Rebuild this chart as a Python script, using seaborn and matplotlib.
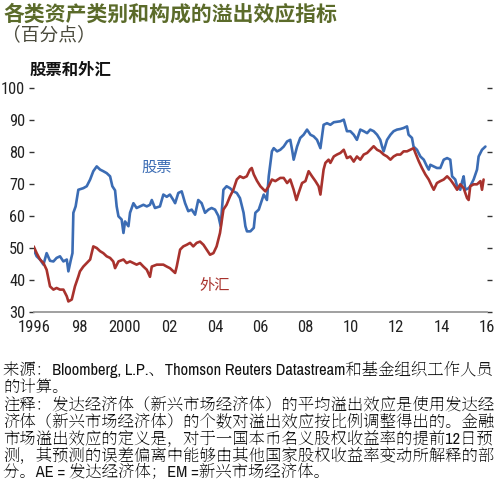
import pandas as pd
import matplotlib.pyplot as plt
import seaborn as sns

# 股票 (equity) spillover
stock_year = [1996.00, 1996.13, 1996.28, 1996.43, 1996.57, 1996.72, 1996.87, 1997.01, 1997.16, 1997.31,
              1997.46, 1997.53, 1997.63, 1997.71, 1997.75, 1997.85, 1997.97, 1998.19, 1998.34, 1998.49,
              1998.63, 1998.78, 1998.93, 1999.07, 1999.22, 1999.37, 1999.47, 1999.59, 1999.66, 1999.74,
              1999.88, 1999.96, 2000.03, 2000.18, 2000.25, 2000.40, 2000.54, 2000.69, 2000.84, 2000.99,
              2001.13, 2001.21, 2001.35, 2001.57, 2001.72, 2001.87, 2002.01, 2002.16, 2002.24, 2002.38,
              2002.53, 2002.68, 2002.82, 2002.97, 2003.12, 2003.26, 2003.41, 2003.56, 2003.71, 2003.85,
              2004.00, 2004.15, 2004.25, 2004.37, 2004.51, 2004.66, 2004.81, 2004.96, 2005.10, 2005.26,
              2005.34, 2005.41, 2005.56, 2005.71, 2005.78, 2005.93, 2006.07, 2006.15, 2006.29, 2006.37,
              2006.51, 2006.59, 2006.74, 2006.88, 2007.03, 2007.18, 2007.32, 2007.40, 2007.47, 2007.62,
              2007.76, 2007.91, 2008.06, 2008.21, 2008.35, 2008.50, 2008.65, 2008.79, 2008.94, 2009.09,
              2009.24, 2009.53, 2009.68, 2009.82, 2009.97, 2010.12, 2010.26, 2010.41, 2010.56, 2010.71,
              2010.85, 2011.00, 2011.15, 2011.29, 2011.37, 2011.44, 2011.59, 2011.74, 2011.88, 2012.03,
              2012.18, 2012.32, 2012.47, 2012.54, 2012.69, 2012.76, 2012.91, 2013.06, 2013.21, 2013.35,
              2013.43, 2013.50, 2013.65, 2013.79, 2013.94, 2014.09, 2014.24, 2014.38, 2014.46, 2014.60,
              2014.68, 2014.82, 2014.90, 2014.97, 2015.04, 2015.19, 2015.26, 2015.41, 2015.56, 2015.63,
              2015.78, 2015.93]
stock_val = [49.5, 47.4, 46.4, 44.8, 48.4, 46.0, 45.8, 46.9, 47.4, 45.8,
             46.4, 42.7, 46.0, 48.4, 61.0, 63.0, 68.2, 68.7, 69.3, 71.4,
             74.0, 75.5, 74.5, 74.0, 73.4, 72.4, 69.3, 68.0, 63.0, 59.9,
             58.9, 54.7, 58.3, 56.8, 61.0, 64.0, 62.5, 63.0, 63.5, 63.0,
             63.5, 65.0, 62.5, 63.0, 66.7, 66.0, 66.7, 65.0, 64.0, 67.2,
             67.7, 64.0, 61.5, 62.0, 60.4, 65.0, 64.0, 61.0, 62.0, 62.5,
             62.0, 60.0, 56.8, 68.2, 69.3, 68.7, 67.7, 67.2, 65.6, 61.0,
             56.8, 55.2, 55.2, 56.3, 61.0, 62.0, 65.0, 66.7, 65.0, 72.4,
             80.2, 81.2, 80.2, 80.7, 81.7, 83.3, 83.8, 80.7, 77.6, 81.7,
             84.4, 85.4, 87.0, 85.4, 84.9, 83.8, 81.2, 88.5, 89.0, 88.5,
             89.3, 89.6, 90.1, 86.5, 86.5, 85.4, 83.8, 87.0, 86.5, 85.9,
             87.0, 86.5, 85.4, 83.8, 81.7, 80.2, 83.8, 85.4, 86.5, 87.0,
             87.2, 87.5, 88.0, 85.4, 84.4, 81.7, 80.7, 78.6, 77.6, 75.5,
             74.5, 76.0, 75.5, 75.0, 75.0, 77.6, 78.1, 77.6, 72.4, 71.4,
             69.3, 68.2, 70.7, 72.4, 68.2, 68.7, 69.3, 71.4, 74.5, 78.6,
             80.7, 81.7]

# 外汇 (FX) spillover
fx_year = [1996.00, 1996.13, 1996.28, 1996.43, 1996.57, 1996.72, 1996.87, 1997.01, 1997.16, 1997.31,
           1997.46, 1997.53, 1997.68, 1997.82, 1997.97, 1998.04, 1998.19, 1998.34, 1998.49, 1998.63,
           1998.78, 1998.93, 1999.07, 1999.22, 1999.37, 1999.51, 1999.59, 1999.74, 1999.96, 2000.10,
           2000.25, 2000.40, 2000.54, 2000.69, 2000.84, 2000.99, 2001.13, 2001.21, 2001.43, 2001.57,
           2001.72, 2001.87, 2002.01, 2002.16, 2002.24, 2002.31, 2002.46, 2002.60, 2002.75, 2002.90,
           2003.04, 2003.19, 2003.34, 2003.49, 2003.63, 2003.78, 2003.93, 2004.07, 2004.22, 2004.37,
           2004.51, 2004.66, 2004.81, 2004.96, 2005.10, 2005.25, 2005.40, 2005.54, 2005.62, 2005.71,
           2005.85, 2006.00, 2006.22, 2006.37, 2006.51, 2006.66, 2006.88, 2007.03, 2007.18, 2007.32,
           2007.47, 2007.59, 2007.69, 2007.84, 2007.99, 2008.13, 2008.28, 2008.43, 2008.57, 2008.65,
           2008.79, 2008.87, 2009.01, 2009.09, 2009.24, 2009.38, 2009.53, 2009.68, 2009.82, 2009.97,
           2010.12, 2010.26, 2010.41, 2010.56, 2010.71, 2010.85, 2011.00, 2011.15, 2011.29, 2011.44,
           2011.59, 2011.74, 2011.88, 2012.03, 2012.18, 2012.32, 2012.47, 2012.62, 2012.76, 2012.84,
           2012.99, 2013.13, 2013.28, 2013.43, 2013.57, 2013.65, 2013.79, 2013.94, 2014.09, 2014.24,
           2014.38, 2014.53, 2014.68, 2014.82, 2014.97, 2015.12, 2015.19, 2015.26, 2015.41, 2015.56,
           2015.71, 2015.78, 2015.85]
fx_val = [50.5, 48.4, 46.4, 45.3, 43.2, 38.0, 37.0, 37.5, 37.0, 37.0,
          34.9, 33.3, 33.9, 38.0, 41.1, 42.7, 44.2, 45.3, 46.4, 50.5,
          50.0, 49.0, 48.4, 47.4, 46.9, 45.8, 43.7, 45.8, 46.4, 45.3,
          45.8, 45.3, 44.8, 45.3, 44.2, 43.2, 41.0, 44.2, 44.8, 44.8,
          44.8, 44.2, 43.7, 42.7, 42.2, 44.2, 49.5, 50.5, 51.0, 51.6,
          50.5, 51.6, 52.0, 51.0, 49.5, 47.9, 48.4, 50.5, 54.7, 62.0,
          63.5, 66.1, 68.2, 71.4, 72.4, 71.9, 72.4, 74.5, 75.0, 73.0,
          71.0, 69.3, 67.7, 69.3, 71.4, 70.9, 71.9, 71.9, 70.3, 71.4,
          68.2, 65.0, 67.2, 70.3, 70.9, 74.0, 72.4, 70.9, 69.3, 66.7,
          74.5, 76.6, 77.6, 76.6, 78.6, 79.2, 79.7, 80.7, 78.1, 78.6,
          77.0, 78.6, 77.6, 79.2, 79.7, 80.7, 81.8, 80.7, 80.2, 79.2,
          78.6, 77.6, 78.6, 79.2, 79.2, 80.2, 80.2, 80.7, 81.2, 79.7,
          77.1, 75.0, 73.0, 71.4, 69.3, 68.2, 70.3, 70.9, 71.4, 72.4,
          71.4, 69.9, 68.2, 69.9, 68.7, 65.6, 65.0, 69.3, 69.9, 69.9,
          70.9, 68.2, 71.4]

xtick_pos = [1996, 1998, 2000, 2002, 2004, 2006, 2008, 2010, 2012, 2014, 2016]
xtick_lab = ["1996", "98", "2000", "02", "04", "06", "08", "10", "12", "14", "16"]
ytick_pos = [30, 40, 50, 60, 70, 80, 90, 100]

footer = [
    "来源：Bloomberg, L.P.、Thomson Reuters Datastream和基金组织工作人员",
    "的计算。",
    "注释：发达经济体（新兴市场经济体）的平均溢出效应是使用发达经",
    "济体（新兴市场经济体）的个数对溢出效应按比例调整得出的。金融",
    "市场溢出效应的定义是，对于一国本币名义股权收益率的提前12日预",
    "测，其预测的误差偏离中能够由其他国家股权收益率变动所解释的部",
    "分。AE = 发达经济体；EM =新兴市场经济体。",
]

df = pd.concat([
    pd.DataFrame({"year": stock_year, "value": stock_val, "series": "股票"}),
    pd.DataFrame({"year": fx_year, "value": fx_val, "series": "外汇"}),
])

sns.set_style("white")
plt.rcParams["font.family"] = ["Roboto Condensed", "Noto Sans CJK SC", "DejaVu Sans"]

blue = "#3b6cb4"
red = "#a8322d"
sans_cjk = ["Noto Sans CJK SC", "DejaVu Sans"]
serif_mix = ["Archivo Narrow", "Noto Serif SC", "Noto Serif CJK JP", "Noto Sans CJK SC"]

W, H = 504, 494
fig = plt.figure(figsize=(W / 100, H / 100), dpi=100)
ax = fig.add_axes([33.7 / W, (H - 312) / H, (487 - 33.7) / W, (312 - 88) / H])

sns.lineplot(data=df, x="year", y="value", hue="series", palette={"股票": blue, "外汇": red},
             estimator=None, linewidth=1.9, legend=False, ax=ax)

ax.set_xlim(1996, 2016)
ax.set_ylim(30, 100)
ax.set_xticks(xtick_pos)
ax.set_xticklabels(xtick_lab)
ax.set_yticks(ytick_pos)
ax.set_xlabel("")
ax.set_ylabel("")
for s in ["top", "left", "right"]:
    ax.spines[s].set_visible(False)
ax.spines["bottom"].set_color("#999999")
ax.spines["bottom"].set_linewidth(1.3)
ax.tick_params(axis="x", direction="in", length=4, width=1, color="#777777",
               labelsize=12, pad=5.5, labelcolor="#222222")
ax.tick_params(axis="y", direction="out", length=3.6, width=1, color="#333333",
               left=True, right=True, labelsize=11.8, pad=2.5, labelcolor="#222222")

ax.text(2001.44, 75.2, "股票", color=blue, fontsize=11, ha="center", va="center", family=sans_cjk)
ax.text(2004.0, 38.4, "外汇", color=red, fontsize=11, ha="center", va="center", family=sans_cjk)

fig.text(3 / W, 1 - 14 / H, "各类资产类别和构成的溢出效应指标", fontsize=15, fontweight="bold",
         color="#5b6b2a", va="center", ha="left", family=sans_cjk)
fig.text(2 / W, 1 - 35 / H, "（百分点）", fontsize=13.5, color="#4a4a3c", va="center", ha="left",
         family=sans_cjk)
fig.text(30 / W, 1 - 70 / H, "股票和外汇", fontsize=11.8, fontweight="bold", color="#111111",
         va="center", ha="left", family=sans_cjk)

for i, line in enumerate(footer):
    fig.text(3 / W, 1 - (370 + 17 * i) / H, line, fontsize=11.8, color="#111111",
             va="center", ha="left", family=serif_mix)

fig.savefig("out.png", dpi=100)
